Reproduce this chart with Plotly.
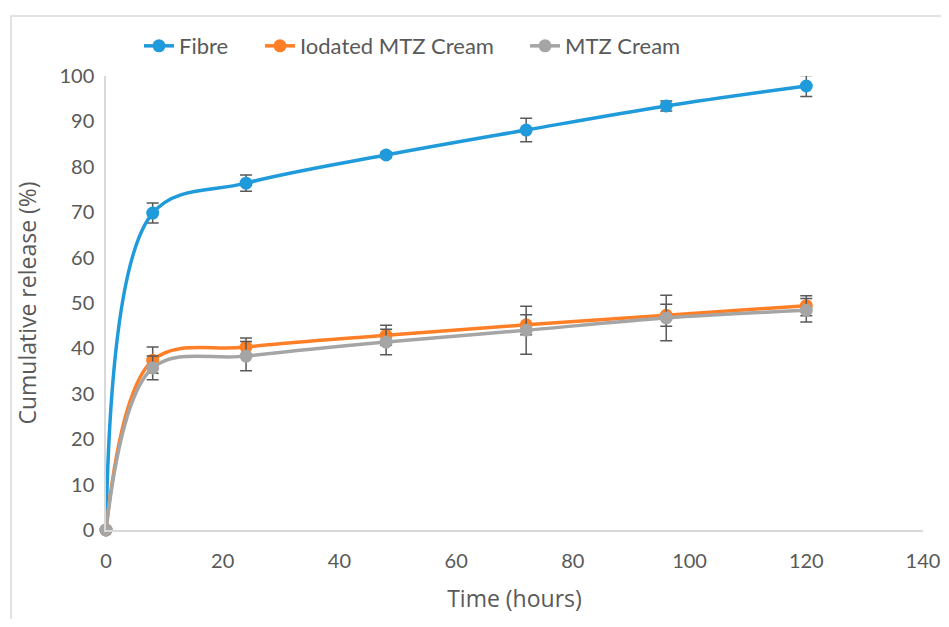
import plotly.graph_objects as go

time_h = [0, 8, 24, 48, 72, 96, 120]
fibre = [0, 69.8, 76.4, 82.6, 88.1, 93.4, 97.8]
fibre_err = [0, 2.2, 1.8, 0.6, 2.6, 1.1, 2.3]
iodated = [0, 37.4, 40.3, 42.9, 45.2, 47.3, 49.4]
iodated_err = [0, 2.9, 2.0, 2.2, 2.2, 2.4, 2.2]
mtz = [0, 35.7, 38.3, 41.4, 44.0, 46.7, 48.4]
mtz_err = [0, 2.6, 3.2, 2.8, 5.3, 5.0, 2.6]

series = [
    ("Fibre", fibre, fibre_err, "#1F9BDB", "legend"),
    ("Iodated MTZ Cream", iodated, iodated_err, "#FF7F27", "legend2"),
    ("MTZ Cream", mtz, mtz_err, "#A5A5A5", "legend3"),
]

fig = go.Figure()
for name, vals, errs, col, lg in series:
    fig.add_trace(go.Scatter(
        x=time_h, y=vals, name=name, mode="lines+markers",
        line=dict(color=col, width=3.5, shape="spline", smoothing=1.0),
        marker=dict(color=col, size=13),
        error_y=dict(type="data", array=errs, visible=True,
                     color="#595959", thickness=1.5, width=6),
        cliponaxis=False, legend=lg,
    ))

tick_font = "Lato, 'Noto Sans', sans-serif"
title_font = "'Open Sans', 'Noto Sans', sans-serif"


def leg(x):
    return dict(orientation="h", x=x, xanchor="left", y=1.066, yanchor="middle",
                font=dict(size=22, color="#595959", family=tick_font),
                bgcolor="rgba(0,0,0,0)")


fig.update_layout(
    width=941, height=611,
    margin=dict(l=98, r=26, t=68, b=89, autoexpand=False),
    paper_bgcolor="white", plot_bgcolor="white",
    font=dict(family=tick_font, color="#595959", size=20),
    showlegend=True,
    legend=leg(0.0404),
    legend2=leg(0.1885),
    legend3=leg(0.5129),
    xaxis=dict(range=[0, 140], tickmode="linear", tick0=0, dtick=20,
               showgrid=False, zeroline=False, showline=True, automargin=False,
               linecolor="#D9D9D9", linewidth=1.5, ticks="", ticklabelstandoff=12,
               title=dict(text="Time (hours)", font=dict(size=23, family=title_font, color="#595959"), standoff=20),
               tickfont=dict(size=20)),
    yaxis=dict(range=[0, 100], tickmode="linear", tick0=0, dtick=10,
               showgrid=False, zeroline=False, showline=True, automargin=False,
               linecolor="#D9D9D9", linewidth=1.5, ticks="", ticklabelstandoff=6,
               title=dict(text="Cumulative release (%)", font=dict(size=23, family=title_font, color="#595959"), standoff=16),
               tickfont=dict(size=20)),
    shapes=[dict(type="rect", xref="paper", yref="paper",
                 x0=-0.1163, x1=1.1, y0=-0.3, y1=1.132,
                 line=dict(color="#D9D9D9", width=1.5), layer="below")],
)

fig.write_html("out.html")
